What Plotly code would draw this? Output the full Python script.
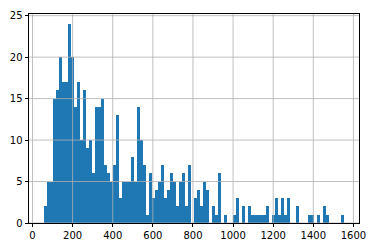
import numpy as np
import plotly.graph_objects as go

# histogram counts (100 equal-width bins)
counts = [2, 5, 5, 15, 16, 20, 17, 17, 24, 20,
          14, 17, 10, 16, 9, 10, 6, 14, 14, 15,
          7, 6, 5, 7, 13, 3, 5, 5, 5, 8,
          5, 14, 10, 7, 1, 6, 3, 4, 5, 7,
          3, 4, 6, 5, 2, 5, 6, 2, 7, 0,
          3, 4, 2, 5, 4, 0, 2, 1, 6, 0,
          1, 0, 0, 1, 3, 0, 2, 0, 2, 1,
          1, 1, 1, 1, 2, 0, 1, 3, 1, 3,
          1, 3, 0, 0, 2, 0, 0, 0, 1, 1,
          0, 1, 0, 2, 1, 0, 0, 0, 0, 1]
bin_min = 57.4
bin_max = 1553.0
x_ticks = [0, 200, 400, 600, 800, 1000, 1200, 1400, 1600]
y_ticks = [0, 5, 10, 15, 20, 25]

edges = np.linspace(bin_min, bin_max, len(counts) + 1)
centers = (edges[:-1] + edges[1:]) / 2
width = edges[1] - edges[0]
span = bin_max - bin_min
x_range = [bin_min - 0.05 * span, bin_max + 0.05 * span]
y_range = [0, max(counts) * 1.05]

fig = go.Figure(go.Bar(
    x=centers, y=counts, width=width,
    marker=dict(color="#1f77b4", line=dict(width=0)),
))

grid = dict(color="#b0b0b0", width=0.8)
shapes = []
for xt in x_ticks:
    shapes.append(dict(type="line", xref="x", yref="paper", x0=xt, x1=xt, y0=0, y1=1, line=grid, layer="above"))
for yt in y_ticks:
    shapes.append(dict(type="line", xref="paper", yref="y", x0=0, x1=1, y0=yt, y1=yt, line=grid, layer="above"))

axis_common = dict(
    showgrid=False, zeroline=False, showline=True, mirror=True,
    linecolor="black", linewidth=0.8, ticks="outside", ticklen=3.5,
    tickwidth=0.8, tickcolor="black",
    tickfont=dict(family="DejaVu Sans", size=10, color="black"),
)

fig.update_layout(
    width=376, height=251,
    margin=dict(l=27, r=14, t=10, b=24, pad=0),
    paper_bgcolor="white", plot_bgcolor="white",
    bargap=0, showlegend=False,
    shapes=shapes,
    xaxis=dict(range=x_range, tickvals=x_ticks, **axis_common),
    yaxis=dict(range=y_range, tickvals=y_ticks, **axis_common),
)

fig.write_html("out.html")
